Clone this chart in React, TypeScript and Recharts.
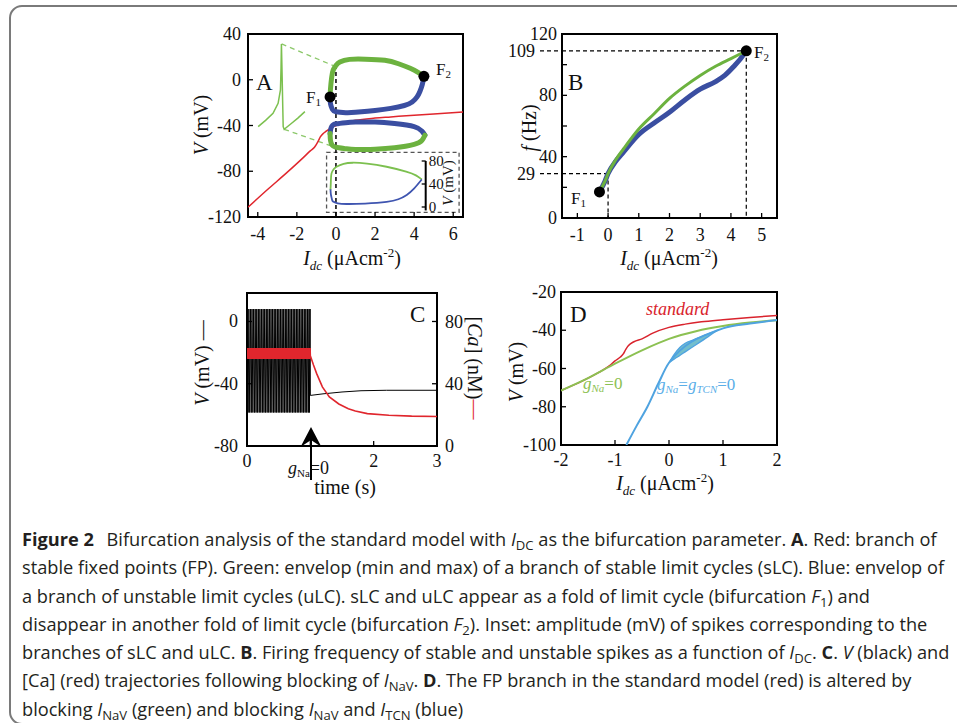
import React from 'react';
import { ComposedChart, Line, Area, Scatter, XAxis, YAxis, ReferenceLine, ReferenceArea } from 'recharts';

const SERIF = '"Liberation Serif", "Times New Roman", serif';
const SANS = '"Open Sans", Lato, sans-serif';

// ---- panel A: V vs I_dc ----
const A_FP_I = [-4.5, -3.5, -2.5, -1.7, -1.3, -1.1, -1.0, -0.9, -0.8, -0.65, -0.5, -0.3, -0.05, 0.5, 1, 2, 2.8, 4, 5, 6.5];
const A_FP_V = [-111.5, -96, -81, -68.5, -62, -59, -56.5, -53.5, -50, -47, -45, -42.5, -40.4, -37.5, -35.5, -33.5, -32.5, -31, -30, -28.3];
const A_SLC_MAX_I = [-0.3, -0.28, -0.22, -0.14, 0, 0.2, 0.7, 1.5, 2.5, 3.2, 3.8, 4.2, 4.5];
const A_SLC_MAX_V = [-15, -8, 2, 8.5, 12.5, 15.5, 17.8, 18, 17, 14, 10, 6.5, 3];
const A_ULC_MAX_I = [-0.3, -0.28, -0.18, 0, 0.5, 1, 2, 2.8, 3.5, 3.9, 4.15, 4.3, 4.42, 4.5];
const A_ULC_MAX_V = [-15, -21, -26, -28, -28.8, -28.5, -26.8, -25, -22.5, -19.5, -15, -10, -4, 3];
const A_ULC_MIN_I = [-0.3, -0.25, -0.15, 0, 0.5, 1, 2, 3, 4, 4.4, 4.55];
const A_ULC_MIN_V = [-47, -42, -39.5, -38.5, -37.5, -37, -37, -38.3, -41, -45, -48.5];
const A_SLC_MIN_I = [-0.3, -0.28, -0.2, 0, 0.5, 1, 2, 3, 4, 4.4, 4.55];
const A_SLC_MIN_V = [-47, -53, -57, -59, -60.3, -61, -60.7, -59.5, -56.5, -53, -48.5];
const A_SPIKE_I = [-3.98, -3.6, -3.22, -2.96, -2.84, -2.81, -2.79, -2.75, -2.72, -2.7, -2.65, -2.3, -1.95, -1.59];
const A_SPIKE_V = [-41, -35.5, -29.3, -20.6, -8.9, 10, 31.3, 0, -25, -41, -43.3, -38.5, -33.5, -27.9];
const FOLD_I = [-0.3, 4.5];
const FOLD_V = [-15, 3];
// inset: spike amplitude (mV)
const AMP_S_I = [-0.27, -0.25, -0.22, -0.1, 0.04, 0.4, 0.87, 1.6, 2.6, 3.6, 4.1, 4.4];
const AMP_S = [30, 45, 58, 66, 70, 75, 77, 75.5, 70, 61.5, 55, 48];
const AMP_U_I = [-0.27, -0.25, -0.2, -0.14, 0.1, 0.55, 1.5, 2.6, 3.2, 3.63, 4.0, 4.4];
const AMP_U = [31, 22, 14, 9.5, 6.5, 5.2, 6, 9, 13.5, 21, 32, 48];

// ---- panel B: frequency vs I_dc ----
const B_S_I = [-0.28, -0.1, 0, 0.25, 0.5, 1, 1.5, 2, 2.5, 3, 3.5, 4, 4.5];
const B_S_F = [17, 24, 29, 38, 45, 58, 68, 78, 86, 93, 99, 104, 109];
const B_U_I = [-0.28, -0.1, 0, 0.25, 0.5, 1, 1.5, 2, 2.5, 3, 3.5, 3.8, 4.1, 4.3, 4.5];
const B_U_F = [17, 24, 29, 37, 43, 54.5, 62, 69, 77, 84, 89, 93, 99, 103.5, 109];
const B_FOLD_I = [-0.28, 4.5];
const B_FOLD_F = [17, 109];

// ---- panel C: time course after g_Na = 0 ----
const C_SPIKE_T = [0.004, 0.029, 0.054, 0.079, 0.104, 0.129, 0.154, 0.179, 0.204, 0.229, 0.254, 0.279, 0.304, 0.329,
  0.354, 0.379, 0.404, 0.429, 0.454, 0.479, 0.504, 0.529, 0.554, 0.579, 0.604, 0.629, 0.654, 0.679, 0.704, 0.729,
  0.754, 0.779, 0.804, 0.829, 0.854, 0.879, 0.904, 0.929, 0.954, 0.979, 0.996];
const C_V_PEAK = 8;
const C_V_TROUGH = -58.5;
const C_CA_HI = 63;
const C_CA_LO = 56;
const C_V_POST_T = [1.0, 1.2, 1.5, 1.8, 2.2, 3.0];
const C_V_POST = [-47.5, -46.5, -45.3, -44.5, -44.2, -44.2];
const C_CA_POST_T = [1.0, 1.05, 1.1, 1.19, 1.3, 1.45, 1.6, 1.71, 1.9, 2.24, 2.6, 3.0];
const C_CA_POST = [58, 52, 46.5, 38, 31.5, 27, 24, 22.5, 20.8, 19.8, 19.2, 19];

// ---- panel D: FP branches ----
const D_STD_I = [-2, -1.6, -1.3, -1.1, -1.0, -0.9, -0.85, -0.8, -0.75, -0.65, -0.5, -0.3, 0, 0.3, 0.6, 1, 1.5, 2];
const D_STD_V = [-71.5, -66.5, -62, -58.5, -56, -54, -52.5, -50, -48, -46, -44.5, -41.5, -38.5, -36.8, -35.6, -34.5, -33.3, -32.3];
const D_NA_I = [-2, -1.5, -1, -0.5, 0, 0.5, 1, 1.5, 2];
const D_NA_V = [-71.5, -65, -57.5, -50.5, -44.5, -40.5, -37.8, -36, -34.8];
const D_TCN_I = [-0.79, -0.6, -0.4, -0.2, 0, 0.9, 1.0, 1.5, 2];
const D_TCN_V = [-100, -90, -80, -68, -57, -40, -39, -36.5, -34.7];
const D_BAND_I = [0, 0.1, 0.2, 0.3, 0.45, 0.6, 0.75, 0.9];
const D_BAND_HI = [-57, -52.5, -49, -46.8, -45, -43.3, -41.6, -40];
const D_BAND_LO = [-57, -55, -53.2, -51.3, -48.5, -45.7, -42.8, -40];

const xy = (xs: number[], ys: number[]) => xs.map((x, i) => ({ x, y: ys[i] }));

const cVolt = [
  { x: 0, y: C_V_TROUGH },
  ...C_SPIKE_T.flatMap((t) => [{ x: Math.max(0, t - 0.011), y: C_V_TROUGH }, { x: t, y: C_V_PEAK }]),
  ...xy(C_V_POST_T, C_V_POST),
];
const cCa = [
  ...C_SPIKE_T.flatMap((t) => [{ x: Math.max(0, t - 0.011), y: C_CA_LO }, { x: t, y: C_CA_HI }]),
  ...xy(C_CA_POST_T, C_CA_POST),
];
const dBand = D_BAND_I.map((x, i) => ({ x, y: [D_BAND_LO[i], D_BAND_HI[i]] }));

const GREEN = '#6cb23f';
const BLUE = '#3a4ea1';
const RED = '#e0262d';

const PAD = 70;
const tickText = { fontFamily: SERIF, fontSize: 18, fill: '#111' };

function bottomTick(hide: number[] = [], dy = 23) {
  return (p: any) => {
    const v = p.payload.value;
    return (
      <g>
        <line x1={p.x} x2={p.x} y1={p.y} y2={p.y - 5} stroke="#000" strokeWidth={1.3} />
        {!hide.includes(v) && <text x={p.x} y={p.y + dy} textAnchor="middle" {...tickText}>{v}</text>}
      </g>
    );
  };
}

function leftTick(dx: number, labels?: number[], dashed: number[] = []) {
  return (p: any) => {
    const v = p.payload.value;
    const sp = dashed.includes(v);
    const show = !labels || labels.includes(v);
    return (
      <g>
        {sp
          ? <line x1={p.x - 22} x2={p.x} y1={p.y} y2={p.y} stroke="#000" strokeWidth={1.2} strokeDasharray="4 3" />
          : <line x1={p.x} x2={p.x + 5} y1={p.y} y2={p.y} stroke="#000" strokeWidth={1.3} />}
        {show && <text x={p.x - (sp ? 27 : dx)} y={p.y + 6} textAnchor="end" {...tickText}>{v}</text>}
      </g>
    );
  };
}

function rightTick(dx: number, size = 18, inner = 5) {
  return (p: any) => (
    <g>
      {inner > 0 && <line x1={p.x} x2={p.x - inner} y1={p.y} y2={p.y} stroke="#000" strokeWidth={1.3} />}
      <text x={p.x + dx} y={p.y + size * 0.35} textAnchor="start" fontFamily={SERIF} fontSize={size} fill="#111">{p.payload.value}</text>
    </g>
  );
}

// plot box is given in page pixels; axes are 1px wide, so margins take the rest
function Panel({ box, left = true, right = false, bottom = true, children }:
  { box: number[]; left?: boolean; right?: boolean; bottom?: boolean; children: React.ReactNode }) {
  const [x0, y0, x1, y1] = box;
  const margin = { top: PAD, left: PAD - (left ? 1 : 0), right: PAD - (right ? 1 : 0), bottom: PAD - (bottom ? 1 : 0) };
  return (
    <div style={{ position: 'absolute', left: x0 - PAD, top: y0 - PAD }}>
      <ComposedChart width={x1 - x0 + 2 * PAD} height={y1 - y0 + 2 * PAD} margin={margin}>
        {children}
      </ComposedChart>
    </div>
  );
}

const dot = (p: any) => <circle cx={p.cx} cy={p.cy} r={5.5} fill="#000" />;

function IdcLabel({ x, y }: { x: number; y: number }) {
  return (
    <text x={x} y={y} textAnchor="middle" fontSize={20} fill="#111">
      <tspan fontStyle="italic">I</tspan>
      <tspan fontSize={13} dy={5} fontStyle="italic">dc</tspan>
      <tspan dy={-5}> (μAcm</tspan>
      <tspan fontSize={13} dy={-8}>-2</tspan>
      <tspan dy={8}>)</tspan>
    </text>
  );
}

function Fsub({ x, y, n }: { x: number; y: number; n: string }) {
  return (
    <text x={x} y={y} fontSize={17} fill="#111">F<tspan fontSize={11} dy={3}>{n}</tspan></text>
  );
}

const subStyle: React.CSSProperties = { fontSize: '0.72em', verticalAlign: 'baseline', position: 'relative', top: '0.3em', lineHeight: 0 };
const S = ({ children }: { children: React.ReactNode }) => <span style={subStyle}>{children}</span>;

export default function App() {
  return (
    <div style={{ position: 'absolute', left: 0, top: 0, width: 957, height: 723, overflow: 'hidden', background: '#fff' }}>
      <div style={{ position: 'absolute', left: 9, top: 5, width: 1000, height: 716, border: '2px solid #7a7a7a', borderRadius: 13 }} />

      {/* A */}
      <Panel box={[248, 34, 463, 217]}>
        <XAxis type="number" dataKey="x" domain={[-4.5, 6.5]} ticks={[-4, -2, 0, 2, 4, 6]} allowDataOverflow height={1}
          tickSize={0} tickMargin={0} axisLine={false} interval={0} tick={bottomTick()} />
        <YAxis type="number" dataKey="y" domain={[-120, 40]} ticks={[-120, -80, -40, 0, 40]} allowDataOverflow width={1}
          tickSize={0} tickMargin={0} axisLine={false} interval={0} tick={leftTick(7)} />
        <ReferenceArea x1={-4.5} x2={6.5} y1={-120} y2={40} fill="none" fillOpacity={0} stroke="#000" strokeWidth={2} />
        <ReferenceArea x1={-0.48} x2={6.3} y1={-116} y2={-63.5} fill="none" fillOpacity={0} stroke="#555" strokeWidth={1.3} strokeDasharray="4 3" />
        <ReferenceLine segment={[{ x: 0, y: 13 }, { x: 0, y: -120 }]} stroke="#000" strokeWidth={1.5} strokeDasharray="4 3" />
        <ReferenceLine segment={[{ x: -2.78, y: 31.3 }, { x: -0.08, y: 12 }]} stroke="#8cc86a" strokeWidth={1.3} strokeDasharray="5 4" />
        <ReferenceLine segment={[{ x: -2.65, y: -43.3 }, { x: -0.22, y: -58 }]} stroke="#8cc86a" strokeWidth={1.3} strokeDasharray="5 4" />
        <Line data={xy(A_FP_I, A_FP_V)} dataKey="y" type="monotone" stroke={RED} strokeWidth={1.5} dot={false} isAnimationActive={false} />
        <Line data={xy(A_SPIKE_I, A_SPIKE_V)} dataKey="y" type="linear" stroke="#7cc04f" strokeWidth={1.5} dot={false} isAnimationActive={false} />
        <Line data={xy(A_ULC_MAX_I, A_ULC_MAX_V)} dataKey="y" type="natural" stroke={BLUE} strokeWidth={5} strokeLinecap="round" dot={false} isAnimationActive={false} />
        <Line data={xy(A_ULC_MIN_I, A_ULC_MIN_V)} dataKey="y" type="natural" stroke={BLUE} strokeWidth={5} strokeLinecap="round" dot={false} isAnimationActive={false} />
        <Line data={xy(A_SLC_MAX_I, A_SLC_MAX_V)} dataKey="y" type="natural" stroke={GREEN} strokeWidth={5} strokeLinecap="round" dot={false} isAnimationActive={false} />
        <Line data={xy(A_SLC_MIN_I, A_SLC_MIN_V)} dataKey="y" type="natural" stroke={GREEN} strokeWidth={5} strokeLinecap="round" dot={false} isAnimationActive={false} />
        <Scatter data={xy(FOLD_I, FOLD_V)} dataKey="y" shape={dot} isAnimationActive={false} />
      </Panel>

      {/* A inset: amplitude */}
      <Panel box={[326.2, 161, 425.9, 207]} left={false} right bottom={false}>
        <XAxis hide type="number" dataKey="x" domain={[-0.5, 4.6]} allowDataOverflow />
        <YAxis orientation="right" type="number" dataKey="y" domain={[0, 80]} ticks={[0, 40, 80]} allowDataOverflow width={1}
          tickSize={0} tickMargin={0} interval={0} axisLine={false} tick={rightTick(3, 15, 4)} />
        <ReferenceLine segment={[{ x: 4.6, y: -6 }, { x: 4.6, y: 80 }]} stroke="#000" strokeWidth={2} ifOverflow="visible" />
        <Line data={xy(AMP_S_I, AMP_S)} dataKey="y" type="natural" stroke="#7cc04f" strokeWidth={1.8} dot={false} isAnimationActive={false} />
        <Line data={xy(AMP_U_I, AMP_U)} dataKey="y" type="natural" stroke="#3f55b0" strokeWidth={1.8} dot={false} isAnimationActive={false} />
      </Panel>

      {/* B */}
      <Panel box={[562, 34, 777, 218]}>
        <XAxis type="number" dataKey="x" domain={[-1.5, 5.5]} ticks={[-1, 0, 1, 2, 3, 4, 5]} allowDataOverflow height={1}
          tickSize={0} tickMargin={0} axisLine={false} interval={0} tick={bottomTick()} />
        <YAxis type="number" dataKey="y" domain={[0, 120]} ticks={[0, 20, 29, 40, 60, 80, 100, 109, 120]} allowDataOverflow width={1}
          tickSize={0} tickMargin={0} axisLine={false} interval={0} tick={leftTick(5, [0, 29, 40, 80, 109, 120], [29, 109])} />
        <ReferenceArea x1={-1.5} x2={5.5} y1={0} y2={120} fill="none" fillOpacity={0} stroke="#000" strokeWidth={2} />
        <ReferenceLine segment={[{ x: -1.5, y: 109 }, { x: 4.5, y: 109 }]} stroke="#000" strokeWidth={1.2} strokeDasharray="4 3" />
        <ReferenceLine segment={[{ x: 4.5, y: 109 }, { x: 4.5, y: 0 }]} stroke="#000" strokeWidth={1.2} strokeDasharray="4 3" />
        <ReferenceLine segment={[{ x: -1.5, y: 29 }, { x: 0, y: 29 }]} stroke="#000" strokeWidth={1.2} strokeDasharray="4 3" />
        <ReferenceLine segment={[{ x: 0, y: 29 }, { x: 0, y: 0 }]} stroke="#000" strokeWidth={1.2} strokeDasharray="4 3" />
        <Line data={xy(B_U_I, B_U_F)} dataKey="y" type="monotone" stroke={BLUE} strokeWidth={5} strokeLinecap="round" dot={false} isAnimationActive={false} />
        <Line data={xy(B_S_I, B_S_F)} dataKey="y" type="monotone" stroke={GREEN} strokeWidth={3} strokeLinecap="round" dot={false} isAnimationActive={false} />
        <Scatter data={xy(B_FOLD_I, B_FOLD_F)} dataKey="y" shape={dot} isAnimationActive={false} />
      </Panel>

      {/* C */}
      <Panel box={[247, 293, 437, 446]} right>
        <XAxis type="number" dataKey="x" domain={[0, 3]} ticks={[0, 1, 2, 3]} allowDataOverflow height={1}
          tickSize={0} tickMargin={0} axisLine={false} interval={0} tick={bottomTick([1], 21)} />
        <YAxis yAxisId="v" type="number" dataKey="y" domain={[-80, 18.3]} ticks={[-80, -40, 0]} allowDataOverflow width={1}
          tickSize={0} tickMargin={0} axisLine={false} interval={0} tick={leftTick(9)} />
        <YAxis yAxisId="ca" orientation="right" type="number" dataKey="y" domain={[0, 98.3]} ticks={[0, 40, 80]} allowDataOverflow width={1}
          tickSize={0} tickMargin={0} axisLine={false} interval={0} tick={rightTick(8)} />
        <ReferenceArea yAxisId="v" x1={0} x2={3} y1={-80} y2={18.3} fill="none" fillOpacity={0} stroke="#000" strokeWidth={2} />
        <Line yAxisId="v" data={cVolt} dataKey="y" type="linear" stroke="#000" strokeWidth={1} dot={false} isAnimationActive={false} />
        <Line yAxisId="ca" data={cCa} dataKey="y" type="linear" stroke={RED} strokeWidth={1.6} dot={false} isAnimationActive={false} />
      </Panel>

      {/* D */}
      <Panel box={[561, 292, 777, 445]}>
        <XAxis type="number" dataKey="x" domain={[-2, 2]} ticks={[-2, -1, 0, 1, 2]} allowDataOverflow height={1}
          tickSize={0} tickMargin={0} axisLine={false} interval={0} tick={bottomTick([], 21)} />
        <YAxis type="number" dataKey="y" domain={[-100, -20]} ticks={[-100, -80, -60, -40, -20]} allowDataOverflow width={1}
          tickSize={0} tickMargin={0} axisLine={false} interval={0} tick={leftTick(5)} />
        <ReferenceArea x1={-2} x2={2} y1={-100} y2={-20} fill="none" fillOpacity={0} stroke="#000" strokeWidth={2} />
        <Line data={xy(D_STD_I, D_STD_V)} dataKey="y" type="monotone" stroke="#d9232d" strokeWidth={1.5} dot={false} isAnimationActive={false} />
        <Line data={xy(D_NA_I, D_NA_V)} dataKey="y" type="monotone" stroke="#8cc152" strokeWidth={2} dot={false} isAnimationActive={false} />
        <Area data={dBand} dataKey="y" type="monotone" stroke="#4fa3e0" strokeWidth={1.3} fill="#64b7c6" fillOpacity={0.9} isAnimationActive={false} />
        <Line data={xy(D_TCN_I, D_TCN_V)} dataKey="y" type="monotone" stroke="#4fa3e0" strokeWidth={2} dot={false} isAnimationActive={false} />
      </Panel>

      {/* annotations */}
      <svg width={957} height={723} style={{ position: 'absolute', left: 0, top: 0, pointerEvents: 'none' }} fontFamily={SERIF}>
        <text x={256} y={90} fontSize={23} fill="#111">A</text>
        <Fsub x={306} y={103} n="1" />
        <Fsub x={436} y={75} n="2" />
        <text transform="translate(453,183) rotate(-90)" textAnchor="middle" fontSize={15} fill="#111">
          <tspan fontStyle="italic">V</tspan> (mV)
        </text>
        <text transform="translate(208,125) rotate(-90)" textAnchor="middle" fontSize={20} fill="#111">
          <tspan fontStyle="italic">V</tspan> (mV)
        </text>
        <IdcLabel x={352} y={265} />

        <text x={568} y={90} fontSize={23} fill="#111">B</text>
        <Fsub x={571} y={204} n="1" />
        <Fsub x={754} y={58} n="2" />
        <text transform="translate(536,128) rotate(-90)" textAnchor="middle" fontSize={20} fill="#111">
          <tspan fontStyle="italic">f</tspan> (Hz)
        </text>
        <IdcLabel x={669} y={265} />

        <text x={410} y={322} fontSize={23} fill="#111">C</text>
        <text transform="translate(209,363) rotate(-90)" textAnchor="middle" fontSize={20} fill="#111">
          <tspan fontStyle="italic">V</tspan> (mV) —
        </text>
        <text transform="translate(468,368) rotate(90)" textAnchor="middle" fontSize={20} fill="#111">
          [<tspan fontStyle="italic">Ca</tspan>] (nM)<tspan fill={RED}>—</tspan>
        </text>
        <text x={288} y={474} fontSize={18} fill="#111">
          <tspan fontStyle="italic">g</tspan><tspan fontSize={11} dy={3}>Na</tspan><tspan dy={-3}>=0</tspan>
        </text>
        <text x={345} y={494} textAnchor="middle" fontSize={20} fill="#111">time (s)</text>
        <line x1={311} y1={480} x2={311} y2={437} stroke="#000" strokeWidth={2} />
        <path d="M311,427 L300.5,447 L311,440 L321.5,447 Z" fill="#000" />

        <text x={570} y={322} fontSize={23} fill="#111">D</text>
        <text x={646} y={315} fontSize={18} fill="#d9232d" fontStyle="italic">standard</text>
        <text x={583} y={389} fontSize={17} fill="#8cc152">
          <tspan fontStyle="italic">g</tspan><tspan fontSize={11} dy={3} fontStyle="italic">Na</tspan><tspan dy={-3}>=0</tspan>
        </text>
        <text x={657} y={390} fontSize={17} fill="#5aaee8">
          <tspan fontStyle="italic">g</tspan><tspan fontSize={11} dy={3} fontStyle="italic">Na</tspan><tspan dy={-3}>=</tspan>
          <tspan fontStyle="italic">g</tspan><tspan fontSize={11} dy={3} fontStyle="italic">TCN</tspan><tspan dy={-3}>=0</tspan>
        </text>
        <text transform="translate(523,372) rotate(-90)" textAnchor="middle" fontSize={20} fill="#111">
          <tspan fontStyle="italic">V</tspan> (mV)
        </text>
        <IdcLabel x={665} y={490} />
      </svg>

      {/* caption */}
      <div style={{ position: 'absolute', left: 22, top: 525, fontFamily: SANS, fontSize: 18.2, lineHeight: '28.3px', color: '#231f20', whiteSpace: 'nowrap' }}>
        <b style={{ marginRight: 8 }}>Figure 2</b> Bifurcation analysis of the standard model with <i>I</i><S>DC</S> as the bifurcation parameter. <b>A</b>. Red: branch of<br />
        stable fixed points (FP). Green: envelop (min and max) of a branch of stable limit cycles (sLC). Blue: envelop of<br />
        a branch of unstable limit cycles (uLC). sLC and uLC appear as a fold of limit cycle (bifurcation <i>F</i><S>1</S>) and<br />
        disappear in another fold of limit cycle (bifurcation <i>F</i><S>2</S>). Inset: amplitude (mV) of spikes corresponding to the<br />
        branches of sLC and uLC. <b>B</b>. Firing frequency of stable and unstable spikes as a function of <i>I</i><S>DC</S>. <b>C</b>. <i>V</i> (black) and<br />
        [Ca] (red) trajectories following blocking of <i>I</i><S>NaV</S>. <b>D</b>. The FP branch in the standard model (red) is altered by<br />
        blocking <i>I</i><S>NaV</S> (green) and blocking <i>I</i><S>NaV</S> and <i>I</i><S>TCN</S> (blue)
      </div>
    </div>
  );
}
